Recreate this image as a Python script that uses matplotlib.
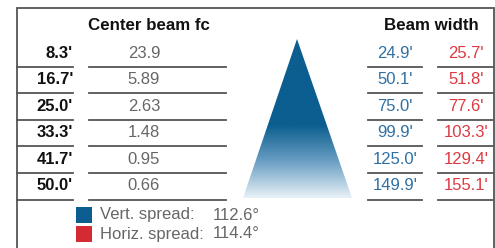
import numpy as np
import matplotlib.pyplot as plt
from matplotlib.patches import Polygon, Rectangle
from matplotlib.colors import LinearSegmentedColormap

plt.rcParams['font.family'] = ['Liberation Sans', 'DejaVu Sans']

distances = ["8.3'", "16.7'", "25.0'", "33.3'", "41.7'", "50.0'"]
center_fc = ["23.9", "5.89", "2.63", "1.48", "0.95", "0.66"]
vert_width = ["24.9'", "50.1'", "75.0'", "99.9'", "125.0'", "149.9'"]
horiz_width = ["25.7'", "51.8'", "77.6'", "103.3'", "129.4'", "155.1'"]
spread_labels = ["Vert. spread:", "Horiz. spread:"]
spread_values = ["112.6\u00b0", "114.4\u00b0"]

blue = '#0b5e8f'
red = '#d42a33'
blue_txt = '#2f70a3'
red_txt = '#dc3a42'
gray_txt = '#666666'
line_c = '#555555'
fs = 12

fig = plt.figure(figsize=(4.95, 2.48), dpi=100)
ax = fig.add_axes([0, 0, 1, 1])
ax.set_xlim(0, 495)
ax.set_ylim(248, 0)
ax.axis('off')

# frame
ax.plot([17, 17, 493.5, 493.5], [248, 8, 8, 248], color='#555555', lw=1.3,
        solid_joinstyle='miter')

# headers
ax.text(149, 25, "Center beam fc", ha='center', va='center', fontsize=12.2,
        fontweight='bold', color='#111111')
ax.text(431, 25, "Beam width", ha='center', va='center', fontsize=12.2,
        fontweight='bold', color='#111111')

y0, dy = 53, 26.6
for i in range(len(distances)):
    y = y0 + i * dy
    ax.text(73, y, distances[i], ha='right', va='center', fontsize=fs,
            fontweight='bold', color='#111111')
    ax.text(144, y, center_fc[i], ha='center', va='center', fontsize=fs,
            color=gray_txt)
    ax.text(395, y, vert_width[i], ha='center', va='center', fontsize=fs,
            color=blue_txt)
    ax.text(466, y, horiz_width[i], ha='center', va='center', fontsize=fs,
            color=red_txt)
    ly = y + 13.5
    for xa, xb in [(17, 73), (89, 226), (368, 422), (438, 493)]:
        ax.plot([xa, xb], [ly, ly], color=line_c, lw=1.3)

# triangle with gradient
apex, bl, br, ytop, ybot = 297, 243, 352, 39, 198
tri = Polygon([[apex, ytop], [br, ybot], [bl, ybot]], closed=True,
              facecolor='none', edgecolor='none')
ax.add_patch(tri)
cmap = LinearSegmentedColormap.from_list(
    'beam', [(0, blue), (0.54, blue), (0.77, '#6a9fc3'), (1, '#e8f1f7')])
grad = np.linspace(0, 1, 256).reshape(-1, 1)
im = ax.imshow(grad, cmap=cmap, extent=[bl, br, ybot, ytop], aspect='auto',
               interpolation='bilinear')
im.set_clip_path(tri)
ax.set_xlim(0, 495)
ax.set_ylim(248, 0)

# legend
for j, (lab, val, col) in enumerate(zip(spread_labels, spread_values, [blue, red])):
    yc = 215 + j * 19
    ax.add_patch(Rectangle((76, yc - 8), 16, 16, facecolor=col, edgecolor='none'))
    ax.text(100, yc, lab, ha='left', va='center', fontsize=fs, color=gray_txt)
    ax.text(213, yc, val, ha='left', va='center', fontsize=fs, color=gray_txt)

fig.savefig('out.png', dpi=100)
